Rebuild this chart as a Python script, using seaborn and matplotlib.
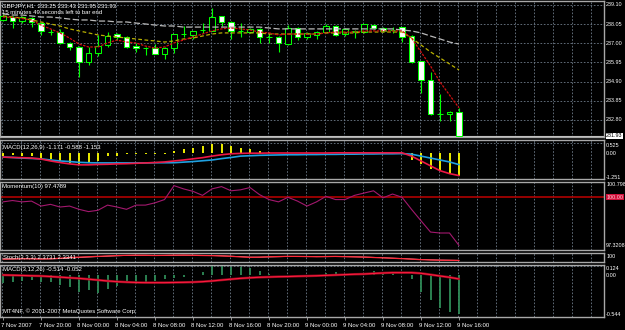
import matplotlib
matplotlib.use("Agg")
import matplotlib.pyplot as plt
import matplotlib.transforms as mtransforms
import numpy as np
import pandas as pd
import seaborn as sns

sns.set_theme(style="dark", rc={"axes.facecolor": "black", "figure.facecolor": "black"})
plt.rcParams["font.family"] = ["Liberation Sans Narrow", "Liberation Sans", "DejaVu Sans"]

# ---------------- data ----------------
symbol_title = "GBPJPY,H1  233.25 233.43 231.95 231.93"
timer_text = "15 minutes 49 seconds left to bar end"
time_labels = ["7 Nov 2007", "7 Nov 20:00", "8 Nov 00:00", "8 Nov 04:00", "8 Nov 08:00",
               "8 Nov 12:00", "8 Nov 16:00", "8 Nov 20:00", "9 Nov 00:00", "9 Nov 04:00",
               "9 Nov 08:00", "9 Nov 12:00", "9 Nov 16:00"]

opens = [238.28, 238.45, 238.22, 238.40, 238.12, 237.64, 237.63, 237.02, 236.80, 235.98,
         236.47, 236.90, 237.51, 237.35, 236.85, 236.74, 236.76, 236.42, 236.74, 237.50,
         237.46, 237.72, 237.68, 238.50, 238.17, 237.66, 237.62, 237.78, 237.35, 237.35,
         236.96, 237.84, 237.35, 237.46, 237.62, 237.95, 237.51, 237.62, 237.62, 238.00,
         237.84, 237.72, 237.89, 237.40, 236.03, 234.99, 233.13, 233.13, 233.25]
highs = [238.62, 238.50, 238.52, 238.45, 238.15, 237.80, 237.80, 237.05, 236.85, 236.80,
         237.46, 237.62, 237.55, 237.40, 237.02, 236.80, 236.96, 236.80, 237.52, 237.95,
         237.68, 238.11, 238.94, 238.52, 238.20, 238.11, 237.85, 237.82, 237.57, 237.40,
         238.00, 237.90, 237.60, 237.66, 238.06, 238.00, 237.82, 237.72, 238.06, 238.05,
         237.88, 237.89, 237.92, 237.45, 236.05, 235.43, 234.22, 233.28, 233.43]
lows = [238.22, 237.84, 238.12, 237.90, 237.46, 237.46, 236.99, 236.63, 235.15, 235.81,
        236.30, 236.80, 237.18, 236.75, 236.52, 236.36, 236.40, 236.14, 236.47, 237.35,
        237.24, 237.57, 237.66, 237.95, 237.24, 237.35, 237.55, 237.02, 237.02, 236.52,
        236.90, 237.20, 237.24, 237.24, 237.56, 237.40, 237.40, 237.29, 237.58, 237.80,
        237.62, 237.57, 237.07, 235.92, 234.28, 233.07, 232.74, 232.74, 231.93]
closes = [238.52, 238.22, 238.44, 238.17, 237.68, 237.62, 237.02, 236.80, 235.98, 236.47,
          236.85, 237.40, 237.35, 236.80, 236.74, 236.76, 236.42, 236.74, 237.51, 237.52,
          237.67, 237.74, 238.44, 238.17, 237.68, 237.68, 237.78, 237.35, 237.37, 237.02,
          237.84, 237.35, 237.57, 237.62, 237.95, 237.46, 237.78, 237.70, 238.06, 237.84,
          237.68, 237.74, 237.35, 235.98, 234.99, 233.13, 233.15, 233.25, 231.93]

ma_fast = [238.44, 238.42, 238.36, 238.28, 238.00, 237.79, 237.57, 237.29, 236.96, 236.80,
           236.80, 237.02, 237.18, 237.07, 237.02, 236.85, 236.74, 236.80, 237.02, 237.18,
           237.35, 237.51, 237.68, 237.79, 237.84, 237.79, 237.73, 237.62, 237.57, 237.46,
           237.51, 237.51, 237.51, 237.51, 237.57, 237.62, 237.62, 237.62, 237.68, 237.68,
           237.68, 237.68, 237.68, 237.29, 236.53, 235.76, 234.88, 234.17, 233.46]
ma_mid = [238.50, 238.44, 238.39, 238.28, 238.17, 238.06, 237.95, 237.79, 237.68, 237.57,
          237.46, 237.40, 237.35, 237.29, 237.24, 237.18, 237.13, 237.07, 237.13, 237.24,
          237.29, 237.40, 237.51, 237.57, 237.57, 237.57, 237.57, 237.57, 237.51, 237.51,
          237.51, 237.51, 237.51, 237.51, 237.57, 237.57, 237.57, 237.57, 237.62, 237.62,
          237.62, 237.62, 237.62, 237.29, 236.91, 236.53, 236.20, 235.87, 235.54]
ma_slow = [238.61, 238.55, 238.55, 238.50, 238.44, 238.44, 238.39, 238.33, 238.28, 238.28,
           238.22, 238.22, 238.17, 238.17, 238.11, 238.06, 238.00, 237.95, 237.95, 237.89,
           237.89, 237.89, 237.89, 237.89, 237.89, 237.89, 237.89, 237.89, 237.84, 237.79,
           237.79, 237.79, 237.79, 237.79, 237.79, 237.79, 237.79, 237.79, 237.79, 237.79,
           237.79, 237.79, 237.73, 237.68, 237.57, 237.40, 237.24, 237.07, 236.96]
price_ticks = [239.10, 238.05, 237.00, 235.95, 234.90, 233.85, 232.80]
price_tick_labels = ["239.10", "238.05", "237.00", "235.95", "234.90", "233.85", "232.80"]
last_price = 231.93
last_price_label = "231.93"

macd_title = "MACD(12,26,9) -1.171 -0.588 -1.153"
macd_hist = [-0.12, -0.08, -0.12, -0.17, -0.28, -0.28, -0.42, -0.50, -0.55, -0.50,
             -0.42, -0.17, -0.12, -0.05, -0.05, -0.03, -0.02, -0.02, 0.12, 0.20,
             0.28, 0.38, 0.45, 0.45, 0.38, 0.28, 0.20, 0.12, 0.05, 0.03,
             0.02, 0.02, 0.03, 0.02, 0.02, 0.03, 0.03, 0.02, 0.02, 0.02,
             0.02, 0.01, 0.01, -0.33, -0.55, -0.83, -0.92, -1.05, -1.171]
macd_blue = [-0.20, -0.22, -0.25, -0.27, -0.29, -0.35, -0.40, -0.43, -0.47, -0.49,
             -0.50, -0.50, -0.50, -0.50, -0.50, -0.50, -0.49, -0.49, -0.49, -0.46,
             -0.43, -0.39, -0.35, -0.28, -0.22, -0.15, -0.13, -0.11, -0.10, -0.09,
             -0.08, -0.08, -0.07, -0.07, -0.06, -0.06, -0.05, -0.05, -0.04, -0.04,
             -0.03, -0.03, -0.02, -0.05, -0.15, -0.25, -0.35, -0.45, -0.588]
macd_red = [-0.20, -0.22, -0.23, -0.25, -0.30, -0.40, -0.48, -0.55, -0.60, -0.60,
            -0.58, -0.57, -0.55, -0.54, -0.52, -0.50, -0.48, -0.45, -0.40, -0.35,
            -0.29, -0.23, -0.15, -0.08, -0.03, -0.01, 0.00, 0.00, 0.01, 0.01,
            0.01, 0.01, 0.01, 0.01, 0.01, 0.02, 0.02, 0.02, 0.02, 0.02,
            0.02, 0.02, 0.02, -0.15, -0.40, -0.65, -0.90, -1.05, -1.153]
macd_ticks = [0.525, 0.00, -1.251]
macd_tick_labels = ["0.525", "0.00", "-1.251"]

mom_title = "Momentum(10) 97.4789"
momentum = [99.76, 99.83, 99.76, 99.80, 99.54, 99.63, 99.49, 99.54, 99.37, 99.25,
            99.32, 99.59, 99.49, 99.37, 99.59, 99.59, 99.71, 99.88, 100.61, 100.44,
            100.31, 100.10, 100.44, 100.56, 100.34, 100.39, 100.51, 100.14, 99.88, 99.76,
            100.00, 99.80, 99.54, 99.76, 100.05, 99.88, 99.88, 100.10, 100.22, 100.34,
            99.97, 100.17, 100.00, 99.37, 98.77, 98.18, 98.13, 98.13, 97.4789]
mom_level = 100.0
mom_ticks = [100.798, 97.3208]
mom_tick_labels = ["100.798", "97.3208"]
mom_level_label = "100.00"

stoch_title = "Stoch(3,3,3) 2.3731 2.3341"
stoch_main = [30, 32, 35, 33, 30, 34, 40, 50, 55, 60, 65, 70,
              75, 78, 80, 78, 76, 78, 80, 80, 78, 76,
              74, 70, 65, 58, 52, 55, 60,
              62, 65, 64, 62, 60, 62, 64, 60, 58, 55, 50,
              45, 40, 35, 28, 22, 18, 15, 14, 12]
stoch_signal = [28, 30, 33, 34, 32, 32, 36, 44, 50, 56, 62, 67,
                72, 76, 78, 79, 77, 77, 78, 80, 79, 77,
                75, 72, 67, 61, 55, 54, 57,
                60, 63, 64, 63, 61, 61, 63, 62, 59, 56, 52,
                47, 42, 37, 31, 25, 20, 17, 15, 13]

macd2_title = "MACD(3,12,26) -0.514 -0.052"
macd2_hist = [-0.109, -0.087, -0.074, -0.066, -0.087, -0.087, -0.131, -0.162, -0.218, -0.197,
              -0.231, -0.188, -0.144, -0.109, -0.118, -0.087, -0.074, -0.057, -0.044, -0.022,
              -0.005, 0.044, 0.118, 0.131, 0.100, 0.100, 0.087, 0.057, 0.013, 0.005,
              -0.005, -0.010, -0.020, 0.005, 0.031, 0.044, 0.010, 0.031, 0.031, 0.057,
              0.044, 0.044, 0.005, -0.057, -0.218, -0.328, -0.437, -0.480, -0.514]
macd2_signal = [0.0, -0.003, -0.006, -0.010, -0.013, -0.020, -0.028, -0.036, -0.044, -0.055,
                -0.066, -0.078, -0.087, -0.093, -0.098, -0.100, -0.100, -0.100, -0.098, -0.096,
                -0.093, -0.087, -0.078, -0.066, -0.055, -0.044, -0.036, -0.030, -0.026, -0.022,
                -0.020, -0.016, -0.013, -0.010, -0.005, 0.000, 0.005, 0.010, 0.013, 0.020,
                0.026, 0.031, 0.031, 0.031, 0.022, 0.005, -0.013, -0.030, -0.052]
macd2_ticks = [0.124, 0.00, -0.544]
macd2_tick_labels = ["0.124", "0.00", "-0.544"]
copyright_text = "MT4NF, \u00a9 2001-2007 MetaQuotes Software Corp."

# ---------------- layout / style ----------------
n = len(closes)
bars = np.arange(n)
df = pd.DataFrame({"bar": bars, "fast": ma_fast, "mid": ma_mid, "slow": ma_slow,
                   "blue": macd_blue, "red": macd_red, "mom": momentum,
                   "st_main": stoch_main, "st_sig": stoch_signal, "sig2": macd2_signal})

W, H = 625, 330
fig = plt.figure(figsize=(W / 100, H / 100), dpi=100)
fig.patch.set_facecolor("black")

PLOT_RIGHT = 604
BAR_PX = 9.5
X0_PX = 3.0
XLIM = (-X0_PX / BAR_PX, (PLOT_RIGHT - X0_PX) / BAR_PX)
GRID = "#6f7c8a"
FRAME = "#a8a8a8"
LIME = "#00ff00"
FS = 4.3      # panel captions / time labels
FS_R = 3.9    # right-hand scale labels


def panel(top, bottom):
    ax = fig.add_axes([0, 1 - bottom / H, PLOT_RIGHT / W, (bottom - top) / H])
    ax.set_facecolor("black")
    for s in ax.spines.values():
        s.set_visible(True)
        s.set_color(FRAME)
        s.set_linewidth(1.0)
    ax.grid(False)
    for g in range(0, 63, 2):
        ax.axvline(g - 0.12, color=GRID, lw=0.6, ls=(0, (2, 2)), zorder=0.5)
    return ax


def finish(ax, ylim):
    ax.set_xlim(*XLIM)
    ax.set_ylim(*ylim)
    ax.set_xlabel("")
    ax.set_ylabel("")
    ax.tick_params(left=False, bottom=False, right=False, top=False,
                   labelleft=False, labelbottom=False)


def hgrid(ax, levels):
    for v in levels:
        ax.axhline(v, color=GRID, lw=0.6, ls=(0, (2, 2)), zorder=0.5)


def rlabel(ax, val, text, va="center", fc=None, tc="white"):
    kw = {}
    if fc is not None:
        kw["bbox"] = dict(boxstyle="square,pad=0.1", fc=fc, ec="none")
    ax.text(1.0035, val, text, transform=ax.get_yaxis_transform(), ha="left", va=va,
            fontsize=FS_R, color=tc, clip_on=False, **kw)


def ftext(x, y, s, color="white"):
    fig.text(x / W, 1 - y / H, s, fontsize=FS, color=color, va="center", ha="left")


# ---- main price panel ----
ax = panel(1, 137)
hgrid(ax, price_ticks)
ax.axhline(last_price, color="#c8c8c8", lw=0.8, zorder=1)
o = np.array(opens)
c = np.array(closes)
bull = c >= o
ax.vlines(bars, lows, highs, color=LIME, lw=0.8, zorder=2)
ax.bar(bars, np.maximum(np.abs(c - o), 0.004), bottom=np.minimum(o, c), width=0.62,
       color=np.where(bull, "black", "white"), edgecolor=LIME, linewidth=0.75, zorder=3)
sns.lineplot(data=df, x="bar", y="slow", ax=ax, color="#b9b9b9", linewidth=0.9,
             linestyle=(0, (5, 2)), zorder=4, legend=False)
sns.lineplot(data=df, x="bar", y="mid", ax=ax, color="#b8b000", linewidth=0.9,
             linestyle=(0, (3, 2)), zorder=4, legend=False)
sns.lineplot(data=df, x="bar", y="fast", ax=ax, color="#d01010", linewidth=0.9,
             linestyle=(0, (2, 1)), zorder=5, legend=False)
finish(ax, (231.867, 239.319))
for v, t in zip(price_ticks, price_tick_labels):
    rlabel(ax, v, t)
rlabel(ax, last_price, last_price_label, fc="white", tc="black")
ftext(2, 5.5, symbol_title)
ftext(2, 12, timer_text)

# ---- MACD(12,26,9) ----
ax = panel(140, 179)
hgrid(ax, [macd_ticks[0]])
ax.vlines(bars, 0, macd_hist, color="#ffff00", lw=1.3, zorder=2)
sns.lineplot(data=df, x="bar", y="blue", ax=ax, color="#1fa0e0", linewidth=1.2,
             zorder=3, legend=False)
sns.lineplot(data=df, x="bar", y="red", ax=ax, color="#ee1744", linewidth=1.2,
             zorder=4, legend=False)
finish(ax, (-1.328, 0.679))
rlabel(ax, macd_ticks[0], macd_tick_labels[0], va="top")
rlabel(ax, macd_ticks[1], macd_tick_labels[1])
rlabel(ax, macd_ticks[2], macd_tick_labels[2])
ftext(3, 148, macd_title)

# ---- Momentum ----
ax = panel(182, 250)
ax.axhline(mom_level, color="#b00000", lw=1.2, zorder=1)
sns.lineplot(data=df, x="bar", y="mom", ax=ax, color="#a3186e", linewidth=0.8,
             zorder=3, legend=False)
finish(ax, (97.24, 100.80))
rlabel(ax, mom_ticks[0], mom_tick_labels[0], va="top")
rlabel(ax, mom_ticks[1], mom_tick_labels[1], va="bottom")
rlabel(ax, mom_level, mom_level_label, fc="#d0103a", tc="#ffd0d8")
ftext(2, 186.5, mom_title)

# ---- Stochastic (thin) ----
ax = panel(253, 262)
sns.lineplot(data=df, x="bar", y="st_sig", ax=ax, color="#ffb0b8", linewidth=0.6,
             zorder=3, legend=False)
sns.lineplot(data=df, x="bar", y="st_main", ax=ax, color="#ff2a3a", linewidth=0.9,
             zorder=4, legend=False)
finish(ax, (-8, 108))
rlabel(ax, 100, "100", va="top")
ftext(3, 257.5, stoch_title)

# ---- MACD(3,12,26) ----
ax = panel(265, 317)
hgrid(ax, [macd2_ticks[0]])
ax.vlines(bars, 0, macd2_hist, color="#2e8b57", lw=1.3, zorder=2)
sns.lineplot(data=df, x="bar", y="sig2", ax=ax, color="#8b0a1a", linewidth=1.8,
             zorder=3, legend=False)
sns.lineplot(data=df, x="bar", y="sig2", ax=ax, color="#ff1a40", linewidth=0.8,
             zorder=4, legend=False)
finish(ax, (-0.550, 0.131))
rlabel(ax, macd2_ticks[0], macd2_tick_labels[0], va="top")
rlabel(ax, macd2_ticks[1], macd2_tick_labels[1])
rlabel(ax, macd2_ticks[2], macd2_tick_labels[2], va="bottom")
ftext(3, 269, macd2_title)
ftext(3, 311.5, copyright_text)

ax.set_xticks(range(0, n, 4))
ax.set_xticklabels(time_labels, ha="left")
ax.tick_params(bottom=True, labelbottom=True, length=2.5, width=0.6, color=FRAME,
               labelsize=FS, labelcolor="white", pad=1.5)
shift = mtransforms.ScaledTranslation(-2 / 100, 0, fig.dpi_scale_trans)
for lab in ax.get_xticklabels():
    lab.set_transform(lab.get_transform() + shift)

fig.savefig("out.png", dpi=100, facecolor="black")
